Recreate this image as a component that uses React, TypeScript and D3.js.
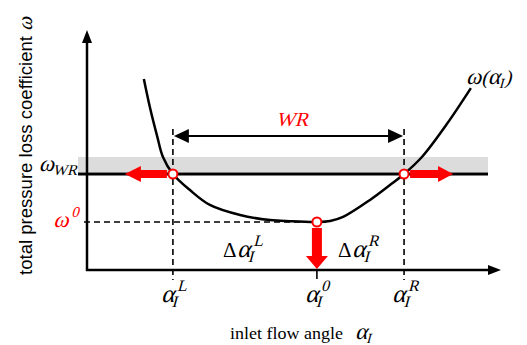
import React from "react";
import * as d3 from "d3";

// Schematic loss curve omega(alpha_I) in abstract units
const curveAlpha = [1.37, 1.52, 1.69, 1.83, 2.07, 2.48, 2.96, 3.69, 4.41, 4.89, 5.54, 5.86, 6.17, 6.82, 7.3, 7.64, 8.07, 8.67, 9.25];
const curveOmega = [7.96, 6.75, 5.58, 4.71, 4.0, 3.33, 2.71, 2.29, 2.08, 2.03, 2.0, 2.04, 2.21, 2.92, 3.54, 4.0, 4.71, 6.08, 7.58];
const alphaKeys = ["L", "0", "R"];
const alphaValues = [2.07, 5.54, 7.64];
const deltaKeys = ["L", "R"];
const deltaPos = [3.28, 6.05];
const omegaWR = 4.0;
const omega0 = 2.0;
const bandTop = 4.71;
const wrArrowY = 5.58;

const W = 527, H = 345;
const x = d3.scaleLinear().domain([0, 10]).range([87, 502]);
const y = d3.scaleLinear().domain([0, 10]).range([270, 30]);

const serif = "'Liberation Serif', 'Times New Roman', serif";
const red = "#ff0000";

function It({ x, y, anchor, fill, children }: { x: number; y: number; anchor?: string; fill?: string; children: React.ReactNode }) {
  return (
    <g transform={`translate(${x},${y}) skewX(-15)`}>
      <text x={0} y={0} textAnchor={anchor || "start"} fontFamily={serif} fill={fill || "#000"}>
        {children}
      </text>
    </g>
  );
}

export default function App() {
  const line = d3.line<number>()
    .x((_, i) => x(curveAlpha[i]))
    .y((d) => y(d))
    .curve(d3.curveCatmullRom.alpha(0.5));
  const [aL, a0, aR] = alphaValues;
  const yWR = y(omegaWR);
  const y0 = y(omega0);
  const yArr = y(wrArrowY);
  const x0 = x(0), yBase = y(0);

  return (
    <svg width={W} height={H} style={{ position: "absolute", left: 0, top: 0, background: "#fff" }}>
      {/* grey band */}
      <rect x={78} y={y(bandTop)} width={410} height={yWR - 2 - y(bandTop)} fill="#dcdcdc" />
      <line x1={78} x2={488} y1={yWR} y2={yWR} stroke="#000" strokeWidth={3} />

      {/* axes */}
      <line x1={x0} x2={x0} y1={yBase + 1} y2={42} stroke="#000" strokeWidth={2.5} />
      <path d={`M${x0},${30} L${x0 - 5},${43} L${x0 + 5},${43} Z`} fill="#000" />
      <line x1={x0 - 1} x2={489} y1={yBase} y2={yBase} stroke="#000" strokeWidth={2.5} />
      <path d={`M${501},${yBase} L${488},${yBase - 5} L${488},${yBase + 5} Z`} fill="#000" />

      {/* dashed guides */}
      <line x1={x(aL)} x2={x(aL)} y1={129} y2={280} stroke="#000" strokeWidth={1.6} strokeDasharray="6,4" />
      <line x1={x(aR)} x2={x(aR)} y1={129} y2={280} stroke="#000" strokeWidth={1.6} strokeDasharray="6,4" />
      <line x1={x(a0)} x2={x(a0)} y1={yBase} y2={279} stroke="#000" strokeWidth={1.6} />
      <line x1={x0 - 3} x2={x(a0)} y1={y0} y2={y0} stroke="#000" strokeWidth={1.6} strokeDasharray="6,4" />

      {/* WR double arrow */}
      <line x1={x(aL) + 10} x2={x(aR) - 10} y1={yArr} y2={yArr} stroke="#000" strokeWidth={2} />
      <path d={`M${x(aL) + 1},${yArr} L${x(aL) + 16},${yArr - 7} L${x(aL) + 16},${yArr + 7} Z`} fill="#000" />
      <path d={`M${x(aR) - 1},${yArr} L${x(aR) - 16},${yArr - 7} L${x(aR) - 16},${yArr + 7} Z`} fill="#000" />
      <It x={292} y={yArr - 10} anchor="middle" fill={red}><tspan fontSize={20}>WR</tspan></It>

      {/* curve */}
      <path d={line(curveOmega) || ""} fill="none" stroke="#000" strokeWidth={2.5} />

      {/* red arrows */}
      <path d={`M${x(aL) - 6},${yWR - 4} L${x(aL) - 32},${yWR - 4} L${x(aL) - 32},${yWR - 8} L${x(aL) - 48},${yWR} L${x(aL) - 32},${yWR + 8} L${x(aL) - 32},${yWR + 4} L${x(aL) - 6},${yWR + 4} Z`} fill={red} />
      <path d={`M${x(aR) + 6},${yWR - 4} L${x(aR) + 34},${yWR - 4} L${x(aR) + 34},${yWR - 8} L${x(aR) + 49},${yWR} L${x(aR) + 34},${yWR + 8} L${x(aR) + 34},${yWR + 4} L${x(aR) + 6},${yWR + 4} Z`} fill={red} />
      <path d={`M${x(a0) - 5},${y0 + 6} L${x(a0) + 5},${y0 + 6} L${x(a0) + 5},${y0 + 34} L${x(a0) + 11},${y0 + 34} L${x(a0)},${yBase - 1} L${x(a0) - 11},${y0 + 34} L${x(a0) - 5},${y0 + 34} Z`} fill={red} />

      {/* key points */}
      {[[aL, omegaWR], [aR, omegaWR], [a0, omega0]].map(([a, o], i) => (
        <circle key={i} cx={x(a)} cy={y(o)} r={4.5} fill="#fff" stroke={red} strokeWidth={2} />
      ))}

      {/* omega labels */}
      <It x={78} y={yWR - 3} anchor="end">
        <tspan fontSize={23}>ω</tspan><tspan fontSize={15} dy={4}>WR</tspan>
      </It>
      <It x={76} y={y0 + 5} anchor="end" fill={red}>
        <tspan fontSize={23}>ω</tspan><tspan fontSize={15} dy={-10}>0</tspan>
      </It>
      <It x={466} y={84}>
        <tspan fontSize={23}>ω</tspan><tspan fontSize={20}>(</tspan><tspan fontSize={23}>α</tspan><tspan fontSize={14} dy={4}>I</tspan><tspan fontSize={20} dy={-4}>)</tspan>
      </It>

      {/* alpha tick labels */}
      {alphaKeys.map((k, i) => (
        <It key={k} x={x(alphaValues[i]) - 12} y={302}>
          <tspan fontSize={25}>α</tspan>
          <tspan fontSize={16} dy={-11}>{k}</tspan>
          <tspan fontSize={16} dx={k === "0" ? -9 : -11} dy={16}>I</tspan>
        </It>
      ))}

      {/* delta labels */}
      {deltaKeys.map((k, i) => (
        <g key={k}>
          <text x={x(deltaPos[i])} y={257} fontFamily={serif} fontSize={21} fill="#000">Δ</text>
          <It x={x(deltaPos[i]) + 14} y={257}>
            <tspan fontSize={25}>α</tspan>
            <tspan fontSize={16} dy={-11}>{k}</tspan>
            <tspan fontSize={16} dx={-11} dy={16}>I</tspan>
          </It>
        </g>
      ))}

      {/* axis titles */}
      <text x={230} y={339} fontFamily={serif} fontSize={17} textLength={113} lengthAdjust="spacingAndGlyphs" fill="#000">inlet flow angle</text>
      <It x={355} y={339}>
        <tspan fontSize={23}>α</tspan><tspan fontSize={14} dy={4}>I</tspan>
      </It>
      <text transform="translate(32,275) rotate(-90)" fill="#000">
        <tspan fontFamily="'Liberation Sans Narrow', 'Arial Narrow', sans-serif" fontSize={19} textLength={239} lengthAdjust="spacingAndGlyphs">total pressure loss coefficient</tspan>
      </text>
      <g transform="translate(32,31) rotate(-90) skewX(-15)">
        <text x={0} y={0} fontFamily={serif} fontSize={21} fill="#000">ω</text>
      </g>
    </svg>
  );
}
